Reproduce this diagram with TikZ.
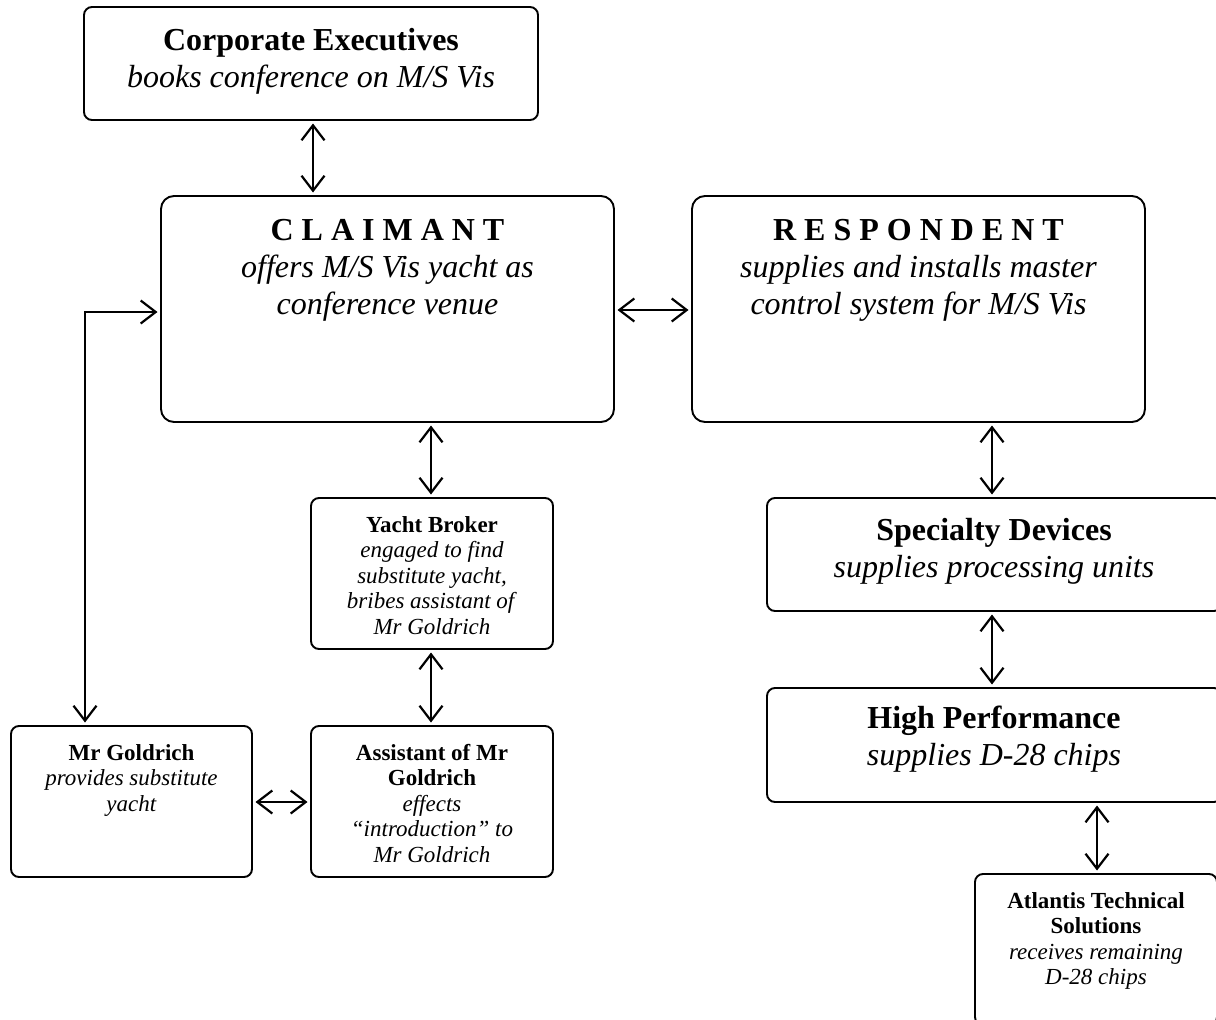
\documentclass[tikz,border=0pt]{standalone}
\usepackage{fontspec}
\setmainfont{Liberation Serif}
\usetikzlibrary{arrows.meta}
\begin{document}
\begin{tikzpicture}[x=1pt,y=-1pt,
  box/.style={draw, line width=1.9pt, rounded corners=#1, inner sep=0pt, outer sep=0pt, anchor=north west},
  box/.default=8pt,
  bigtxt/.style={anchor=north, inner sep=0pt, align=center, font=\fontsize{32}{37}\selectfont},
  smalltxt/.style={anchor=north, inner sep=0pt, align=center, font=\fontsize{23}{25.5}\selectfont},
  dbl/.style={line width=2.2pt, {Straight Barb[length=15pt,width=23pt]}-{Straight Barb[length=15pt,width=23pt]}, shorten <=3.5pt, shorten >=3.5pt}]
\path[use as bounding box] (0,0) rectangle (1216,1020);
\clip (0,0) rectangle (1216,1020);

% boxes
\node[box, minimum width=454pt, minimum height=113pt] (corp) at (84,7) {};
\node[box=13pt, minimum width=453pt, minimum height=226pt] (claim) at (161,196) {};
\node[box=13pt, minimum width=453pt, minimum height=226pt] (resp) at (692,196) {};
\node[box, minimum width=242pt, minimum height=151pt] (broker) at (311,498) {};
\node[box, minimum width=455pt, minimum height=113pt] (spec) at (767,498) {};
\node[box, minimum width=455pt, minimum height=114pt] (hp) at (767,688) {};
\node[box, minimum width=241pt, minimum height=151pt] (gold) at (11,726) {};
\node[box, minimum width=242pt, minimum height=151pt] (asst) at (311,726) {};
\node[box, minimum width=242pt, minimum height=151pt] (atl) at (975,874) {};

% texts
\node[bigtxt] (corpT) at (311,24.1) {\strut\textbf{Corporate Executives}\\\textit{books conference on M/S Vis}};
\node[bigtxt] (claimT) at (387.5,214.1) {\strut\textbf{C L A I M A N T}\\\textit{offers M/S Vis yacht as}\\\textit{conference venue}};
\node[bigtxt] (respT) at (918.5,214.1) {\strut\textbf{R E S P O N D E N T}\\\textit{supplies and installs master}\\\textit{control system for M/S Vis}};
\node[bigtxt] (specT) at (994,514.1) {\strut\textbf{Specialty Devices}\\\textit{supplies processing units}};
\node[bigtxt] (hpT) at (994,702.1) {\strut\textbf{High Performance}\\\textit{supplies D-28 chips}};
\node[smalltxt] (brokerT) at (432,514.15) {\strut\textbf{Yacht Broker}\\\textit{engaged to find}\\\textit{substitute yacht,}\\\textit{bribes assistant of}\\\textit{Mr Goldrich}};
\node[smalltxt] (goldT) at (131.5,742.15) {\strut\textbf{Mr Goldrich}\\\textit{provides substitute}\\\textit{yacht}};
\node[smalltxt] (asstT) at (432,742.15) {\strut\textbf{Assistant of Mr}\\\textbf{Goldrich}\\\textit{effects}\\\textit{“introduction” to}\\\textit{Mr Goldrich}};
\node[smalltxt] (atlT) at (1096,890.15) {\strut\textbf{Atlantis Technical}\\\textbf{Solutions}\\\textit{receives remaining}\\\textit{D-28 chips}};

% connector guides
\coordinate (xA) at (313,0);
\coordinate (xB) at (431,0);
\coordinate (xC) at (992,0);
\coordinate (xD) at (1097,0);
\coordinate (xE) at (85,0);
\coordinate (yA) at (0,310);
\coordinate (yB) at (0,312);
\coordinate (yC) at (0,802);

% connectors
\draw[dbl] (corp.south -| xA) -- (claim.north -| xA);
\draw[dbl] (claim.east |- yA) -- (resp.west |- yA);
\draw[dbl] (claim.south -| xB) -- (broker.north -| xB);
\draw[dbl] (broker.south -| xB) -- (asst.north -| xB);
\draw[dbl] (gold.east |- yC) -- (asst.west |- yC);
\draw[dbl] (gold.north -| xE) |- (claim.west |- yB);
\draw[dbl] (resp.south -| xC) -- (spec.north -| xC);
\draw[dbl] (spec.south -| xC) -- (hp.north -| xC);
\draw[dbl] (hp.south -| xD) -- (atl.north -| xD);
\end{tikzpicture}
\end{document}
